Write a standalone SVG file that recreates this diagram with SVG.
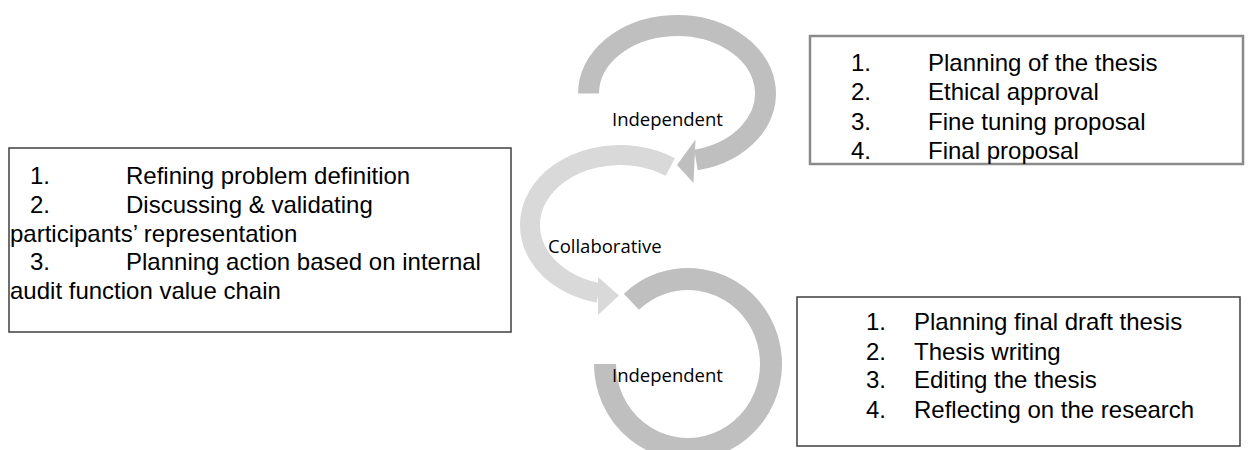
<svg xmlns="http://www.w3.org/2000/svg" width="1253" height="450" viewBox="0 0 1253 450">
<style>
.bg{fill:#ffffff}
.arc-dark{fill:none;stroke:#bfbfbf}
.arc-light{fill:none;stroke:#d9d9d9}
.head-dark{fill:#bfbfbf}
.head-light{fill:#d9d9d9}
.box{fill:#ffffff;stroke:#3f3f3f;stroke-width:1.5}
.box-grey{fill:#ffffff;stroke:#8a8a8a;stroke-width:2.5}
.t{font-family:"Liberation Sans",Arial,sans-serif;font-size:24px;fill:#000}
.lbl{font-family:"Open Sans","Noto Sans",sans-serif;font-size:18.5px;fill:#000}
</style>
<rect class="bg" x="0" y="0" width="1253" height="450"/>
<g id="connectors">
  <g id="arrow-independent-1">
    <path class="arc-dark" stroke-width="21" d="M588.5,93.5 A88.5,68 0 1 1 696,160"/>
    <polygon class="head-dark" points="695.5,139.5 677,165 693.5,183"/>
  </g>
  <g id="arrow-collaborative">
    <path class="arc-light" stroke-width="20" d="M670.3,167 A90,70 0 1 0 598.5,293"/>
    <polygon class="head-light" points="598,277 619,295.5 598,315"/>
  </g>
  <g id="arrow-independent-2">
    <path class="arc-dark" stroke-width="22" d="M631.4,301.8 A83,85 0 1 1 605,364"/>
  </g>
</g>
<g id="label-independent-1"><text class="lbl" x="612" y="126">Independent</text></g>
<g id="label-collaborative"><text class="lbl" x="548" y="253">Collaborative</text></g>
<g id="label-independent-2"><text class="lbl" x="612" y="382">Independent</text></g>
<g id="box-left">
  <rect class="box" x="9" y="148" width="502" height="184"/>
  <text class="t" x="30" y="184">1.</text><text class="t" x="126" y="184">Refining problem definition</text>
  <text class="t" x="30" y="213">2.</text><text class="t" x="126" y="213">Discussing &amp; validating</text>
  <text class="t" x="10" y="242">participants’ representation</text>
  <text class="t" x="30" y="270">3.</text><text class="t" x="126" y="270">Planning action based on internal</text>
  <text class="t" x="10" y="299">audit function value chain</text>
</g>
<g id="box-top-right">
  <rect class="box-grey" x="810" y="36" width="433" height="128"/>
  <text class="t" x="851" y="71">1.</text><text class="t" x="928" y="71">Planning of the thesis</text>
  <text class="t" x="851" y="100">2.</text><text class="t" x="928" y="100">Ethical approval</text>
  <text class="t" x="851" y="129.5">3.</text><text class="t" x="928" y="129.5">Fine tuning proposal</text>
  <text class="t" x="851" y="159">4.</text><text class="t" x="928" y="159">Final proposal</text>
</g>
<g id="box-bottom-right">
  <rect class="box" x="797" y="297" width="443" height="149"/>
  <text class="t" x="866" y="330">1.</text><text class="t" x="914" y="330">Planning final draft thesis</text>
  <text class="t" x="866" y="360">2.</text><text class="t" x="914" y="360">Thesis writing</text>
  <text class="t" x="866" y="388">3.</text><text class="t" x="914" y="388">Editing the thesis</text>
  <text class="t" x="866" y="418">4.</text><text class="t" x="914" y="418">Reflecting on the research</text>
</g>
</svg>
